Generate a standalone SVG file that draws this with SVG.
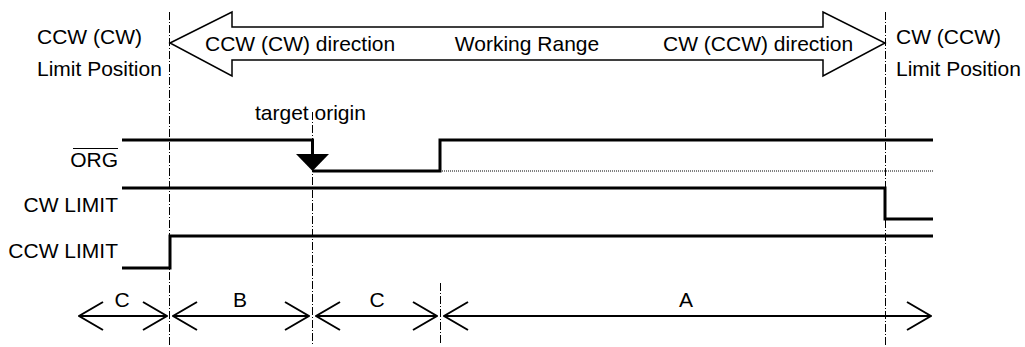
<svg xmlns="http://www.w3.org/2000/svg" width="1025" height="347" viewBox="0 0 1025 347">
<style>
text{font-family:"Liberation Sans",Arial,sans-serif;font-size:21px;fill:#000}
.r{text-anchor:end}
.m{text-anchor:middle}
.dash{stroke:#000;stroke-width:1;fill:none;stroke-dasharray:8,2,1,2}
.sig{stroke:#000;stroke-width:3;fill:none;stroke-linejoin:miter}
.dim{stroke:#000;stroke-width:2;fill:none}
</style>
<defs>
<marker id="oa" viewBox="0 0 26 30" refX="25" refY="15" markerWidth="26" markerHeight="30" markerUnits="userSpaceOnUse" orient="auto-start-reverse">
<path d="M1,1 L25,15 L1,29" fill="none" stroke="#000" stroke-width="2"/>
</marker>
</defs>
<g id="guides">
<line class="dash" x1="169.5" y1="12" x2="169.5" y2="345"/>
<line class="dash" x1="885.5" y1="12" x2="885.5" y2="345"/>
<line class="dash" x1="312.5" y1="112" x2="312.5" y2="345"/>
<line class="dash" x1="440.5" y1="283" x2="440.5" y2="345"/>
</g>
<g id="working-range">
<polygon points="170,43 232,12 232,27 823,27 823,12 885,43 823,76 823,60 232,60 232,76" fill="#fff" stroke="#000" stroke-width="1.5"/>
<text x="205" y="51">CCW (CW) direction</text>
<text class="m" x="527" y="51">Working Range</text>
<text x="663" y="51">CW (CCW) direction</text>
</g>
<g id="ccw-limit-position">
<text x="37" y="44">CCW (CW)</text>
<text x="37" y="76">Limit Position</text>
</g>
<g id="cw-limit-position">
<text x="896" y="44">CW (CCW)</text>
<text x="896" y="76">Limit Position</text>
</g>
<g id="target-origin">
<text x="255" y="120">target origin</text>
<polygon points="296,154 329,154 312.5,171" fill="#000"/>
</g>
<g id="org-signal">
<text class="r" x="118" y="167">ORG</text>
<line x1="73" y1="148.5" x2="118" y2="148.5" stroke="#000" stroke-width="1"/>
<polyline class="sig" points="122,140 312.5,140 312.5,155"/>
<polyline class="sig" points="312.5,171 440,171 440,140 933,140"/>
<line x1="440" y1="171" x2="933" y2="171" stroke="#000" stroke-width="1" stroke-dasharray="1,1"/>
</g>
<g id="cw-limit-signal">
<text class="r" x="118" y="212">CW LIMIT</text>
<polyline class="sig" points="122,188 885,188 885,219 933,219"/>
</g>
<g id="ccw-limit-signal">
<text class="r" x="118" y="258">CCW LIMIT</text>
<polyline class="sig" points="122,268 170,268 170,236 933,236"/>
</g>
<g id="connectors">
<line class="dim" x1="79" y1="316" x2="167" y2="316" marker-start="url(#oa)" marker-end="url(#oa)"/>
<line class="dim" x1="173" y1="316" x2="309" y2="316" marker-start="url(#oa)" marker-end="url(#oa)"/>
<line class="dim" x1="316" y1="316" x2="437" y2="316" marker-start="url(#oa)" marker-end="url(#oa)"/>
<line class="dim" x1="444" y1="316" x2="931" y2="316" marker-start="url(#oa)" marker-end="url(#oa)"/>
<text class="m" x="122" y="307">C</text>
<text class="m" x="240" y="307">B</text>
<text class="m" x="377" y="307">C</text>
<text class="m" x="686" y="307">A</text>
</g>
</svg>
